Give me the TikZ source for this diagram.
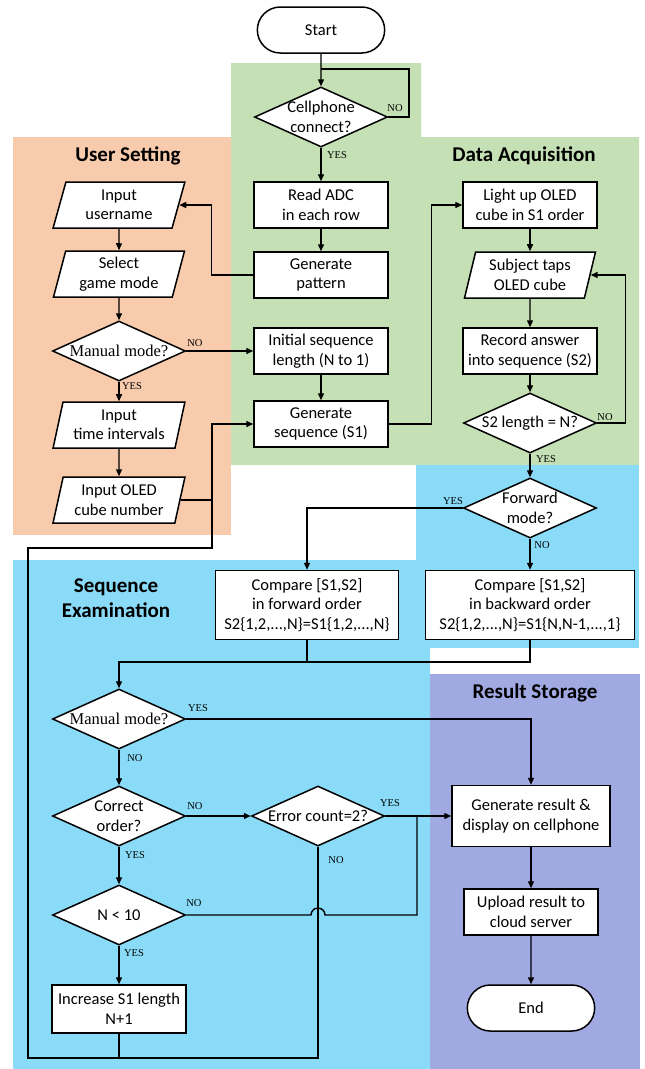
\documentclass[tikz,border=0pt]{standalone}
\usepackage{fontspec}
\setmainfont{Carlito}
\newfontfamily\timesf{Liberation Serif}
\usetikzlibrary{arrows.meta,calc,positioning,shapes.geometric,shapes.misc}
\definecolor{usrbg}{RGB}{248,203,173}
\definecolor{acqbg}{RGB}{197,224,180}
\definecolor{exambg}{RGB}{138,219,248}
\definecolor{storbg}{RGB}{160,169,226}

\tikzset{
  blk/.style={draw,fill=white,line width=1.5pt,minimum width=134pt,minimum height=46pt,align=center,inner sep=2pt},
  io/.style={trapezium,trapezium left angle=75,trapezium right angle=105,trapezium stretches=true,
    draw,fill=white,line width=1.5pt,minimum width=132pt,minimum height=46pt,align=center,inner sep=0pt},
  decision/.style={diamond,draw,fill=white,line width=1.5pt,minimum width=133pt,minimum height=60pt,inner sep=0pt},
  dlbl/.style={align=center,inner sep=0pt},
  tlbl/.style={dlbl,font=\timesf\fontsize{16.5}{19}\selectfont},
  term/.style={rounded rectangle,draw,fill=white,line width=1.5pt,minimum width=134pt,minimum height=46pt},
  title/.style={font=\bfseries\fontsize{21}{25}\selectfont,align=center},
  yn/.style={font=\timesf\fontsize{10.5}{12}\selectfont,inner sep=1pt},
  line/.style={line width=1.4pt},
  arr/.style={line,-{Triangle[length=7pt,width=6pt]}}
}

\begin{document}
\begin{tikzpicture}[x=1pt,y=-1pt,font=\fontsize{16.5}{19.5}\selectfont]
  \useasboundingbox (0,0) rectangle (645,1069);
  % coloured blocks
  \fill[usrbg] (13,137) rectangle (231,535);
  \fill[acqbg] (231,63) -- (421,63) -- (421,137) -- (639,137) -- (639,465) -- (231,465) -- cycle;
  \fill[exambg] (416,465) rectangle (639,648);
  \fill[exambg] (13,560) rectangle (430,1069);
  \fill[storbg] (430,674) rectangle (640,1069);

  \node[title] (tuser) at (128,156) {User Setting};
  \node[title] (tacq) at (524,156) {Data Acquisition};
  \node[title] (texam) at (116,598) {Sequence\\Examination};
  \node[title] (tstor) at (535,693) {Result Storage};

  % middle column
  \node[term] (start) at (321,30) {Start};
  \node[decision,label={[dlbl]center:Cellphone\\connect?}] (conn) at (321,117) {};
  \node[blk] (readadc) at (321,205) {Read ADC\\in each row};
  \node[blk] (genpat) at (321,275) {Generate\\pattern};
  \node[blk] (initlen) at (321,351) {Initial sequence\\length (N to 1)};
  \node[blk] (genseq) at (321,424) {Generate\\sequence (S1)};

  % user setting
  \node[io] (uname) at (119,205) {Input\\username};
  \node[io] (gmode) at (119,274) {Select\\game mode};
  \node[decision,label={[tlbl]center:Manual mode?}] (manual) at (119,351) {};
  \node[io] (tint) at (119,425) {Input\\time intervals};
  \node[io] (cubeno) at (119,500) {Input OLED\\cube number};

  % data acquisition
  \node[blk] (lightup) at (530,205) {Light up OLED\\cube in S1 order};
  \node[io] (taps) at (530,275) {Subject taps\\OLED cube};
  \node[blk] (record) at (530,351) {Record answer\\into sequence (S2)};
  \node[decision,label={[dlbl]center:S2 length = N?}] (s2len) at (530,423) {};

  % sequence examination
  \node[decision,label={[dlbl]center:Forward\\mode?}] (fwd) at (530,508) {};
  \node[blk,minimum width=183pt,minimum height=69pt] (cmpf) at (307,605)
    {Compare [S1,S2]\\in forward order\\S2\{1,2,...,N\}=S1\{1,2,...,N\}};
  \node[blk,minimum width=209pt,minimum height=69pt] (cmpb) at (530,605)
    {Compare [S1,S2]\\in backward order\\S2\{1,2,...,N\}=S1\{N,N-1,...,1\}};
  \node[decision,label={[tlbl]center:Manual mode?}] (manual2) at (119,719) {};
  \node[decision,label={[dlbl]center:Correct\\order?}] (correct) at (119,816) {};
  \node[decision,label={[dlbl]center:Error count=2?}] (errcnt) at (318,816) {};
  \node[decision,label={[dlbl]center:N < 10}] (nless) at (119,915) {};
  \node[blk,minimum height=48pt] (incr) at (119,1009) {Increase S1 length\\N+1};

  % result storage
  \node[blk,minimum width=158pt,minimum height=61pt] (result) at (531,816) {Generate result \&\\display on cellphone};
  \node[blk] (upload) at (531,912) {Upload result to\\cloud server};
  \node[term] (endn) at (531,1008) {End};

  % connectors
  \coordinate (lp) at (409,69);
  \draw[arr] (start) -- (conn);
  \draw[line] (conn.east) -| (lp) -- (lp -| start.south);
  \draw[arr] (conn) -- (readadc);
  \draw[arr] (readadc) -- (genpat);
  \draw[arr] (genpat.west) -- ++(-42,0) |- (uname.east);
  \draw[arr] (uname) -- (gmode);
  \draw[arr] (gmode) -- (manual);
  \draw[arr] (manual) -- (tint);
  \draw[arr] (tint) -- (cubeno);
  \draw[arr] (manual) -- (initlen);
  \draw[arr] (initlen) -- (genseq);
  \draw[arr] (genseq.east) -- ++(43,0) |- (lightup.west);
  \draw[arr] (lightup) -- (taps);
  \draw[arr] (taps) -- (record);
  \draw[arr] (record) -- (s2len);
  \draw[arr] (s2len.east) -- ++(28,0) |- (taps.east);
  \draw[arr] (s2len) -- (fwd);
  \draw[arr] (fwd.west) -| (cmpf.north);
  \draw[arr] (fwd) -- (cmpb);
  \coordinate (mg) at (119,662);
  \draw[line] (cmpf.south) -- (cmpf.south |- mg);
  \draw[arr] (cmpb.south) |- (mg) -- (manual2.north);
  \draw[arr] (manual2.east) -| (result.north);
  \draw[arr] (manual2) -- (correct);
  \draw[arr] (correct) -- (errcnt);
  \draw[arr] (errcnt) -- (result);
  \draw[arr] (correct) -- (nless);
  \draw[arr] (nless) -- (incr);
  \coordinate (jr) at (417,816);
  \draw[line] (nless.east) -- ($(errcnt.south |- nless.east)+(-7,0)$)
    arc[start angle=180,end angle=360,radius=7] -- (nless.east -| jr) -- (jr);
  % back to sequence generation
  \coordinate (lb) at (28,1058);
  \coordinate (jt) at (212,548);
  \draw[arr] (incr.south) |- (lb) |- (jt) |- (genseq.west);
  \draw[line] (cubeno.east) -- (cubeno.east -| jt);
  \draw[line] (errcnt.south) |- (lb);
  \draw[arr] (result) -- (upload);
  \draw[arr] (upload) -- (endn);

  % yes / no
  \node[yn] (n1) at (395,108) {NO};
  \node[yn] (y1) at (337,155) {YES};
  \node[yn] (n2) at (195,343) {NO};
  \node[yn] (y2) at (132,386) {YES};
  \node[yn] (n3) at (605,417) {NO};
  \node[yn] (y3) at (546,459) {YES};
  \node[yn] (y4) at (453,501) {YES};
  \node[yn] (n4) at (542,545) {NO};
  \node[yn] (y5) at (198,708) {YES};
  \node[yn] (n5) at (135,758) {NO};
  \node[yn] (n6) at (195,806) {NO};
  \node[yn] (y6) at (390,803) {YES};
  \node[yn] (n7) at (336,860) {NO};
  \node[yn] (y7) at (135,855) {YES};
  \node[yn] (n8) at (194,903) {NO};
  \node[yn] (y8) at (134,953) {YES};
\end{tikzpicture}
\end{document}
